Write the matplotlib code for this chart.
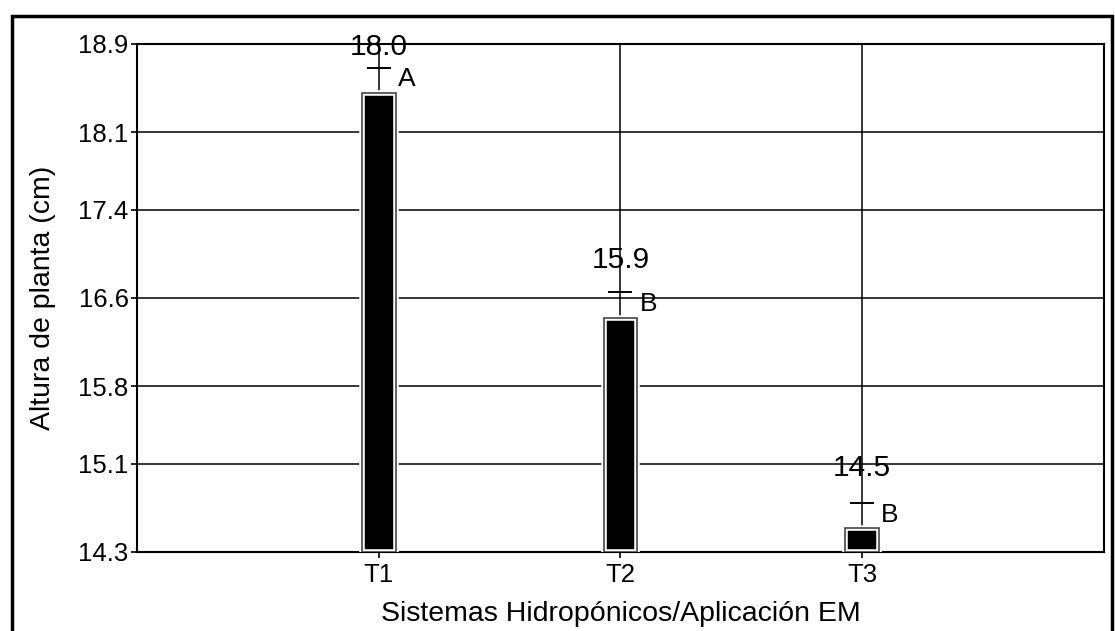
"""Altura de planta por sistema hidropónico / aplicación EM."""
import matplotlib
matplotlib.use("Agg")
import matplotlib.pyplot as plt
from matplotlib.patches import Rectangle

plt.rcParams["font.family"] = ["Liberation Sans", "DejaVu Sans"]

# -----------------------------
# datos
# -----------------------------
categories = ["T1", "T2", "T3"]
bar_tops = [18.46, 16.42, 14.52]        # altura de las barras
err_tops = [18.68, 16.65, 14.74]        # tope del error
mean_labels = ["18.0", "15.9", "14.5"]  # texto sobre cada barra
label_y = [18.87, 16.94, 15.06]
letters = ["A", "B", "B"]
y_min, y_max = 14.3, 18.9
y_ticks = [14.3, 15.1, 15.8, 16.6, 17.4, 18.1, 18.9]

fig = plt.figure(figsize=(11.15, 6.31), dpi=100)
ax = fig.add_axes([0.1229, 0.1252, 0.8671, 0.8051])

x = [i + 1 for i in range(len(categories))]
heights = [b - y_min for b in bar_tops]

# barra negra con borde blanco y contorno gris fino
ax.bar(x, heights, bottom=y_min, width=0.14, color="black",
       edgecolor="white", linewidth=4, zorder=3)
ax.bar(x, heights, bottom=y_min, width=0.14, color="none",
       edgecolor="#444444", linewidth=1.2, zorder=4)

# solo el tope del error
ax.errorbar(x, err_tops, yerr=0, fmt="none", ecolor="black",
            capsize=8.5, capthick=1.2, zorder=4)

for xi, top, ly, lab, let in zip(x, err_tops, label_y, mean_labels, letters):
    ax.text(xi, ly, lab, ha="center", va="center", fontsize=21.5, zorder=5)
    ax.annotate(let, (xi, top), xytext=(20, -8), textcoords="offset points",
                ha="center", va="center", fontsize=19, zorder=5)

ax.set_xlim(0, 4)
ax.set_ylim(y_min, y_max)
ax.set_yticks(y_ticks)
ax.set_yticklabels([f"{v:.1f}" for v in y_ticks])
ax.set_xticks(x)
ax.set_xticklabels(categories)
ax.tick_params(axis="both", labelsize=18.5, length=4, width=1.2, color="black")
ax.tick_params(axis="y", pad=2)
ax.tick_params(axis="x", pad=4)

ax.grid(True, color="black", linewidth=1.1, zorder=1)
ax.set_axisbelow(True)
for s in ax.spines.values():
    s.set_linewidth(1.5)
    s.set_color("black")

ax.set_xlabel("Sistemas Hidropónicos/Aplicación EM", fontsize=20.5, labelpad=10)
ax.set_ylabel("Altura de planta (cm)", fontsize=20.5)
ax.yaxis.set_label_coords(-0.084, 0.5)

# marco exterior de la figura
fig.patches.append(Rectangle((0.011, -0.1), 0.986, 1.074, transform=fig.transFigure,
                             fill=False, edgecolor="black", linewidth=2.5))

fig.savefig("out.png", dpi=100)
